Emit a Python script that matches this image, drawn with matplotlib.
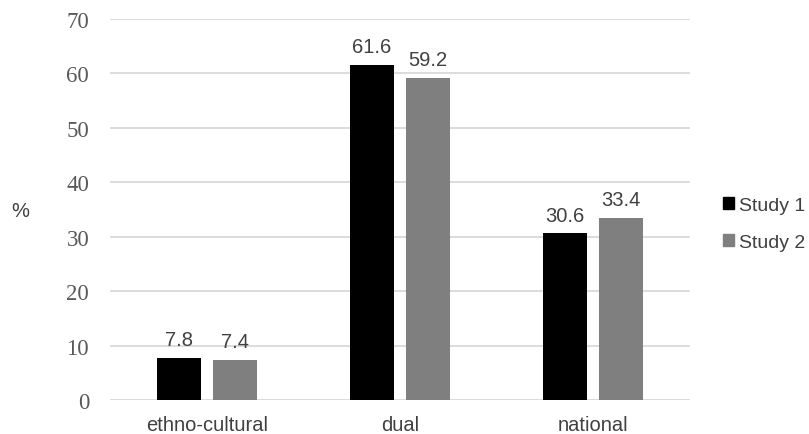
import matplotlib
matplotlib.use("Agg")
import matplotlib.pyplot as plt
import numpy as np
from matplotlib.patches import Patch

categories = ["ethno-cultural", "dual", "national"]
study1 = [7.8, 61.6, 30.6]
study2 = [7.4, 59.2, 33.4]
series_names = ["Study 1", "Study 2"]
yticks = [0, 10, 20, 30, 40, 50, 60, 70]

c1 = "#000000"
c2 = "#7f7f7f"
grid_c = "#d9d9d9"
txt_c = "#404040"
fs = 14.5

fig = plt.figure(figsize=(8.09, 4.35), dpi=100)
ax = fig.add_axes([110 / 809, 1 - 401 / 435, 580 / 809, 381 / 435])

x = np.arange(len(categories))
w = 0.228
off = 0.145
b1 = ax.bar(x - off, study1, w, color=c1)
b2 = ax.bar(x + off, study2, w, color=c2)

for bars, vals in ((b1, study1), (b2, study2)):
    for r, v in zip(bars, vals):
        ax.text(r.get_x() + r.get_width() / 2, v + 1.6, f"{v:.1f}",
                ha="center", va="bottom", fontsize=fs,
                family="Liberation Sans", color=txt_c)

ax.set_xlim(-0.5, 2.5)
ax.set_ylim(0, 70)
ax.set_yticks(yticks)
ax.set_yticklabels([str(t) for t in yticks], family="Liberation Serif",
                   fontsize=16.5, color="#595959")
ax.set_xticks(x)
ax.set_xticklabels(categories, family="Liberation Sans", fontsize=fs, color=txt_c)
ax.tick_params(axis="both", length=0)
ax.tick_params(axis="y", pad=15)
ax.tick_params(axis="x", pad=11)
for s in ax.spines.values():
    s.set_visible(False)
ax.yaxis.grid(True, color=grid_c, linewidth=1.3)
ax.set_axisbelow(True)

fig.text(11 / 809, 1 - 212 / 435, "%", family="Liberation Sans", fontsize=fs,
         color=txt_c, ha="left", va="center")

handles = [Patch(color=c1), Patch(color=c2)]
fig.legend(handles, series_names, loc="center left",
           bbox_to_anchor=(723 / 809, 1 - 225 / 435), frameon=False,
           prop={"family": "Liberation Sans", "size": 14},
           labelcolor=txt_c, handlelength=0.57, handleheight=0.57,
           handletextpad=0.25, labelspacing=1.0,
           borderpad=0, borderaxespad=0)

fig.savefig("out.png", dpi=100)
